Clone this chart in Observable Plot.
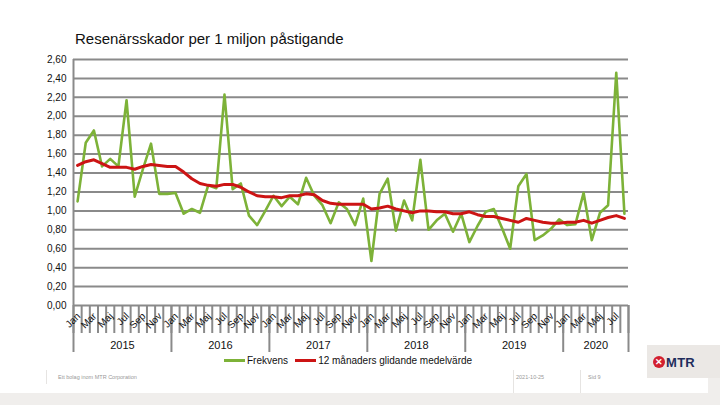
<!DOCTYPE html>
<html><head><meta charset="utf-8">
<script src="https://cdn.jsdelivr.net/npm/d3@7"></script>
<script src="https://cdn.jsdelivr.net/npm/@observablehq/plot@0.6"></script>
<style>
html,body{margin:0;padding:0}
body{width:720px;height:405px;background:#f0eeec;font-family:"Liberation Sans",Arial,sans-serif;position:relative;overflow:hidden}
#slide{position:absolute;left:0;top:0;width:720px;height:393px;background:#fff}
#rstrip{position:absolute;left:708px;top:378px;width:12px;height:15px;background:#f0eeec}
#title{position:absolute;left:75px;top:30px;font-size:15px;color:#111;white-space:nowrap}
#chart{position:absolute;left:0;top:0}
#legend{position:absolute;top:355px;left:224px;font-size:10px;color:#111;display:flex;align-items:center;white-space:nowrap}
#legend .sw{display:inline-block;width:21px;height:3px;margin-right:2px}
#legend .item{display:flex;align-items:center;margin-right:7px}
.foot{position:absolute;font-size:5.5px;color:#999;white-space:nowrap}
.sep{position:absolute;width:1px;background:#e6e4e2}
#logo{position:absolute;left:647px;top:345px;width:73px;height:33px;background:#ebe8e5}
#logo .dot{position:absolute;left:6px;top:11px;width:12px;height:12px;border-radius:50%;background:#d2202f;color:#fff;font-size:9px;line-height:12px;text-align:center;font-weight:bold}
#logo .txt{position:absolute;left:19px;top:10px;font-size:13px;font-weight:bold;color:#1f2d5c;letter-spacing:0.3px}
</style></head>
<body>
<div id="slide"></div>
<div id="rstrip"></div>
<div id="title">Resenärsskador per 1 miljon påstigande</div>
<div id="chart"></div>
<div id="legend"></div>
<div class="sep" style="left:46px;top:370px;height:14px"></div>
<div class="foot" style="left:58px;top:374px">Ett bolag inom MTR Corporation</div>
<div class="sep" style="left:513px;top:370px;height:23px"></div>
<div class="foot" style="left:516px;top:374px">2021-10-25</div>
<div class="sep" style="left:580px;top:370px;height:23px"></div>
<div class="foot" style="left:588px;top:374px">Sid 9</div>
<div id="logo"><div class="dot">✕</div><div class="txt">MTR</div></div>
<script>
const years = ["2015", "2016", "2017", "2018", "2019", "2020"];
const monthNames = ["Jan","Feb","Mar","Apr","Maj","Jun","Jul","Aug","Sep","Okt","Nov","Dec"];
const seriesNames = ["Frekvens", "12 månaders glidande medelvärde"];
const seriesColors = ["#7db238", "#cc1414"];
const yTicks = [0, 0.2, 0.4, 0.6, 0.8, 1.0, 1.2, 1.4, 1.6, 1.8, 2.0, 2.2, 2.4, 2.6];

const frekvens = [
  1.10, 1.72, 1.85, 1.47, 1.55, 1.47, 2.17, 1.15, 1.44, 1.71, 1.18, 1.18,
  1.19, 0.97, 1.02, 0.98, 1.27, 1.24, 2.23, 1.23, 1.29, 0.95, 0.85, 1.00,
  1.16, 1.05, 1.15, 1.07, 1.35, 1.16, 1.06, 0.87, 1.09, 1.02, 0.85, 1.13,
  0.47, 1.18, 1.34, 0.79, 1.11, 0.90, 1.54, 0.80, 0.90, 0.97, 0.78, 0.97,
  0.67, 0.84, 0.99, 1.02, 0.82, 0.60, 1.26, 1.39, 0.69, 0.74, 0.81, 0.91,
  0.85, 0.86, 1.19, 0.69, 0.98, 1.06, 2.46, 0.97
];
const medel = [
  1.48, 1.52, 1.54, 1.50, 1.46, 1.46, 1.46, 1.44, 1.47, 1.49, 1.48, 1.47,
  1.47, 1.41, 1.34, 1.29, 1.27, 1.26, 1.28, 1.28, 1.25, 1.20, 1.16, 1.15,
  1.15, 1.14, 1.16, 1.16, 1.18, 1.17, 1.11, 1.08, 1.07, 1.07, 1.07, 1.07,
  1.02, 1.03, 1.05, 1.02, 1.00, 0.98, 1.00, 1.00, 0.99, 0.99, 0.97, 0.97,
  0.99, 0.96, 0.94, 0.94, 0.92, 0.90, 0.88, 0.92, 0.90, 0.88, 0.87, 0.87,
  0.88, 0.88, 0.90, 0.87, 0.90, 0.93, 0.95, 0.92
];

const n = frekvens.length;
const data = frekvens.map((v, i) => ({i, v, m: medel[i], year: years[Math.floor(i / 12)], month: monthNames[i % 12]}));
const monthLabels = data.filter(d => d.i % 2 === 0);
const yearInfo = years.map((y, k) => {
  const idx = data.filter(d => d.year === y).map(d => d.i);
  return {y, start: d3.min(idx), end: d3.max(idx) + 1};
});
const boundaries = d3.range(0, n + 1);
const yearBounds = [...yearInfo.map(d => d.start), n];
const fmt = d => d3.format(".2f")(d).replace(".", ",");
const grid = "#8a8a8a";

const chart = Plot.plot({
  width: 720, height: 360,
  marginLeft: 73, marginRight: 92, marginTop: 59, marginBottom: 55,
  x: {domain: [0, n], axis: null},
  y: {domain: [0, 2.6], axis: null},
  style: {fontFamily: "'Liberation Sans', Arial, sans-serif", background: "transparent", overflow: "visible"},
  marks: [
    Plot.ruleY(yTicks, {stroke: grid, strokeWidth: 2}),
    Plot.axisY({ticks: yTicks, tickSize: 0, tickPadding: 7, tickFormat: fmt, fontSize: 10, fill: "#111"}),
    Plot.axisX({ticks: boundaries, tickSize: 28, tickFormat: () => "", stroke: grid, strokeWidth: 2}),
    Plot.axisX({ticks: yearBounds, tickSize: 47, tickFormat: () => "", stroke: grid, strokeWidth: 2}),
    Plot.ruleX([0], {stroke: grid, strokeWidth: 2}),
    Plot.text(monthLabels, {x: d => d.i + 0.5, y: 0, text: "month", rotate: -45, textAnchor: "end", dy: 9, dx: 1, fontSize: 10, fill: "#111"}),
    Plot.text(yearInfo, {x: d => (d.start + d.end) / 2, y: 0, text: "y", dy: 40, fontSize: 11, fill: "#111"}),
    Plot.line(data, {x: d => d.i + 0.5, y: "v", stroke: seriesColors[0], strokeWidth: 2.6, strokeLinejoin: "round"}),
    Plot.line(data, {x: d => d.i + 0.5, y: "m", stroke: seriesColors[1], strokeWidth: 3, strokeLinejoin: "round"})
  ]
});
document.getElementById("chart").appendChild(chart);

const legend = document.getElementById("legend");
seriesNames.forEach((name, k) => {
  const it = document.createElement("span");
  it.className = "item";
  it.innerHTML = `<span class="sw" style="background:${seriesColors[k]}"></span><span>${name}</span>`;
  legend.appendChild(it);
});
</script>
</body></html>
